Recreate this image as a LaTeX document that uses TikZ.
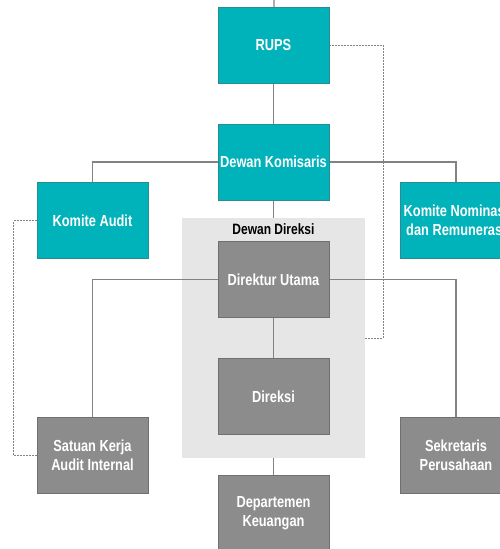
\documentclass[tikz,border=0pt]{standalone}
\usepackage{fontspec}
\setmainfont{Liberation Sans}[FakeStretch=0.8]
\usepackage{tikz}
\usetikzlibrary{positioning, fit, backgrounds}
\definecolor{tosca}{RGB}{0,178,186}
\definecolor{toscaline}{RGB}{40,140,146}
\definecolor{abu}{RGB}{140,140,140}
\definecolor{abuline}{RGB}{112,112,112}
\definecolor{abumuda}{RGB}{230,230,230}
\definecolor{garis}{RGB}{130,130,130}
\tikzstyle{organ} = [rectangle, minimum width=111pt, minimum height=76pt, inner sep=0pt, text centered, align=center, text=white, font=\bfseries\fontsize{16}{19}\selectfont, draw=toscaline, fill=tosca]
\tikzstyle{unit} = [organ, draw=abuline, fill=abu]
\tikzstyle{line} = [draw=garis, line width=1.3pt]
\tikzstyle{dashline} = [draw=garis, line width=0.9pt, dash pattern=on 2pt off 1pt]

\begin{document}
\begin{tikzpicture}[x=1pt, y=1pt, node distance=117pt]
        \useasboundingbox (0,0) rectangle (499,-549);
        \node (rups) [organ] at (273.5,-45) {RUPS};
        \node (komisaris) [organ, below of=rups] {Dewan Komisaris};
        \node (audit) [organ] at (92.5,-220.5) {Komite Audit};
        \node (nominasi) [organ] at (456,-220.5) {Komite Nominasi\\dan Remunerasi};
        \node (direktur) [unit, below of=komisaris, yshift=-0.5pt] {Direktur Utama};
        \node (direksi) [unit, below of=direktur] {Direksi};
        \node (departemen) [unit, below of=direksi] {Departemen\\Keuangan};
        \node (satuan) [unit] at (92.5,-455) {Satuan Kerja\\Audit Internal};
        \node (sekretaris) [unit] at (456,-455) {Sekretaris\\Perusahaan};
        \coordinate (atas) at (274,0);

        \begin{scope}[on background layer]
        % kotak dewan direksi
        \node (dewandireksi) [fill=abumuda, inner xsep=36pt, inner ysep=23pt, fit=(direktur)(direksi)] {};
        \node (judul) [font=\bfseries\fontsize{15}{17}\selectfont, below=2pt of dewandireksi.north] {Dewan Direksi};

        \draw [line] (atas) -- (rups);
        \draw [line] (rups) -- (komisaris);
        \draw [line] (komisaris.west) -| (audit.north);
        \draw [line] (komisaris.east) -| (nominasi.north);
        \draw [line] (komisaris) -- (dewandireksi.north);
        \draw [line] (direktur) -- (direksi);
        \draw [line] (direktur.west) -| (satuan.north);
        \draw [line] (direktur.east) -| (sekretaris.north);
        \draw [line] (dewandireksi.south) -- (departemen);

        \draw [dashline] (rups.east) -- ++(54,0) |- (dewandireksi.east);
        \draw [dashline] (audit.west) -- ++(-23,0) |- (satuan.west);
        \end{scope}
\end{tikzpicture}
\end{document}
